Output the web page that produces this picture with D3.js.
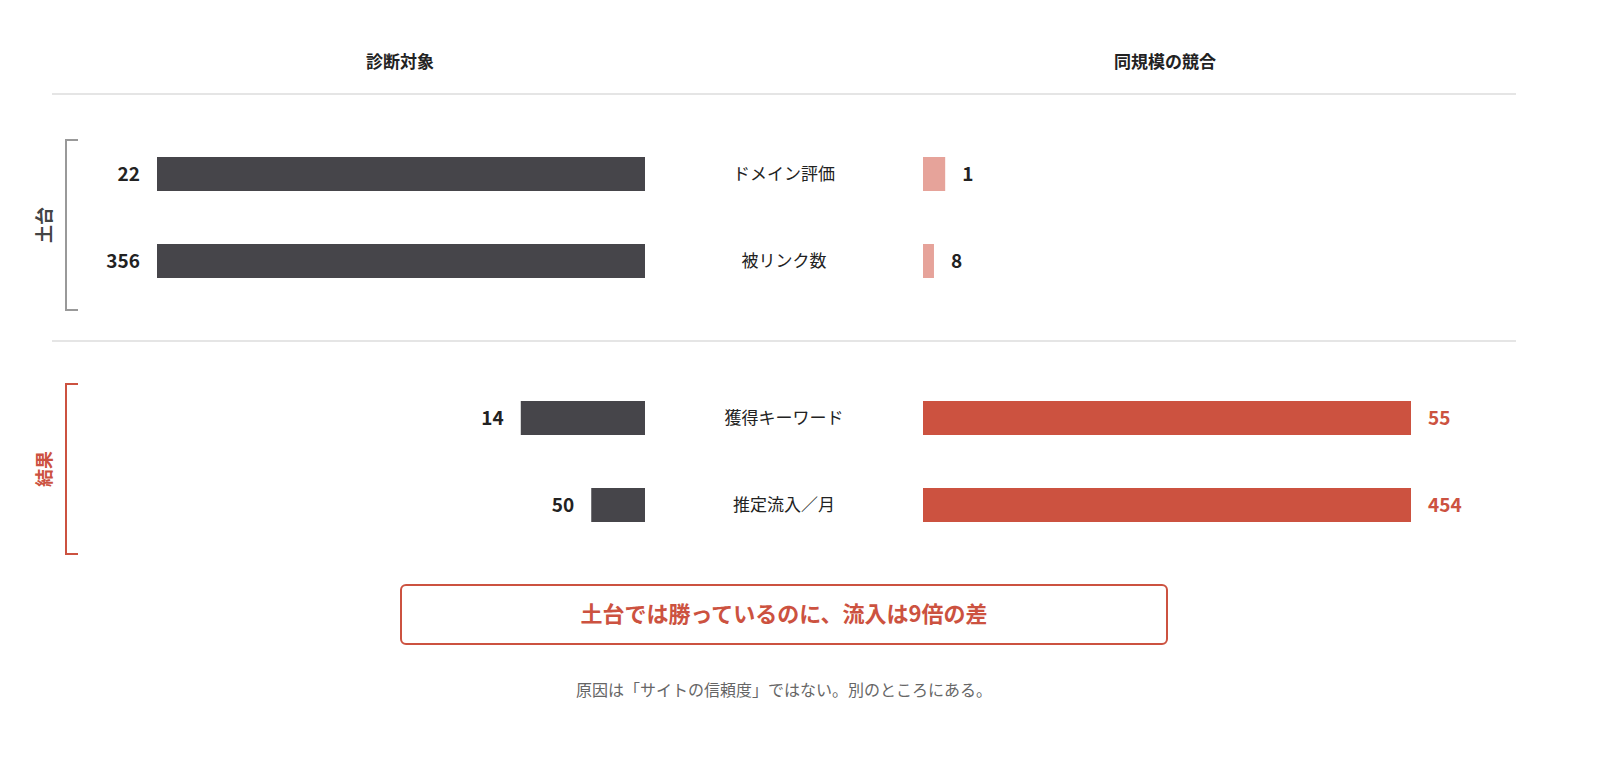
<!DOCTYPE html>
<html><head><meta charset="utf-8">
<script src="https://cdn.jsdelivr.net/npm/d3@7"></script>
<style>body{margin:0;background:#fff;font-family:"Noto Sans CJK JP","Noto Sans",sans-serif}</style>
</head><body><div id="chart"></div>
<script>
// data
var categories = ["ドメイン評価", "被リンク数", "獲得キーワード", "推定流入／月"];
var selfValues = [22, 356, 14, 50];
var rivalValues = [1, 8, 55, 454];
var groups = [{name: "土台", rows: [0, 1], color: "#999"}, {name: "結果", rows: [2, 3], color: "#cc5240"}];
var headers = ["診断対象", "同規模の競合"];

var svg = d3.select("#chart").append("svg").attr("width", 1600).attr("height", 764);

var y = d3.scalePoint().domain(categories).range([174, 505]);
var rowY = [174, 261, 418, 505];
var barH = 34, maxW = 488, leftEnd = 645, rightStart = 923, mid = 784;

// headers + separators
svg.selectAll(".hdr").data(headers).enter().append("text")
  .attr("x", function(d, i) { return i ? 1165 : 400; }).attr("y", 68)
  .attr("text-anchor", "middle").attr("font-size", 17).attr("font-weight", 700).attr("fill", "#222")
  .text(function(d) { return d; });
[94, 341].forEach(function(yy) {
  svg.append("line").attr("x1", 52).attr("x2", 1516).attr("y1", yy).attr("y2", yy)
    .attr("stroke", "#ddd").attr("stroke-width", 1.5);
});

// brackets
groups.forEach(function(g) {
  var y0 = rowY[g.rows[0]] - 34, y1 = rowY[g.rows[1]] + 49;
  svg.append("path").attr("d", "M78," + y0 + "H66V" + y1 + "H78")
    .attr("fill", "none").attr("stroke", g.color).attr("stroke-width", 2);
  svg.append("text").attr("transform", "translate(45," + ((y0 + y1) / 2) + ") rotate(-90)")
    .attr("text-anchor", "middle").attr("dy", "0.35em").attr("font-size", 18).attr("font-weight", 700)
    .attr("fill", g.color === "#999" ? "#444" : g.color).text(g.name);
});

categories.forEach(function(c, i) {
  var yy = rowY[i];
  var m = Math.max(selfValues[i], rivalValues[i]);
  var sc = d3.scaleLinear().domain([0, m]).range([0, maxW]);
  var ws = sc(selfValues[i]), wr = sc(rivalValues[i]);
  var result = i >= 2;
  svg.append("rect").attr("x", leftEnd - ws).attr("y", yy - barH / 2).attr("width", ws).attr("height", barH).attr("fill", "#46454a");
  svg.append("rect").attr("x", rightStart).attr("y", yy - barH / 2).attr("width", wr).attr("height", barH)
    .attr("fill", result ? "#cc5240" : "#e6a39a");
  svg.append("text").attr("x", leftEnd - ws - 17).attr("y", yy).attr("dy", "0.35em").attr("text-anchor", "end")
    .attr("font-size", 19).attr("font-weight", 700).attr("fill", "#222").text(selfValues[i]);
  svg.append("text").attr("x", rightStart + wr + 17).attr("y", yy).attr("dy", "0.35em")
    .attr("font-size", 19).attr("font-weight", 700).attr("fill", result ? "#cc5240" : "#222").text(rivalValues[i]);
  svg.append("text").attr("x", mid).attr("y", yy).attr("dy", "0.35em").attr("text-anchor", "middle")
    .attr("font-size", 17).attr("fill", "#222").text(c);
});

// callout
svg.append("rect").attr("x", 401).attr("y", 585).attr("width", 766).attr("height", 59).attr("rx", 5)
  .attr("fill", "#fff").attr("stroke", "#cc5240").attr("stroke-width", 2);
svg.append("text").attr("x", mid).attr("y", 614).attr("dy", "0.35em").attr("text-anchor", "middle")
  .attr("font-size", 22).attr("font-weight", 700).attr("fill", "#cc5240").text("土台では勝っているのに、流入は9倍の差");
svg.append("text").attr("x", mid).attr("y", 690).attr("dy", "0.35em").attr("text-anchor", "middle")
  .attr("font-size", 16).attr("fill", "#666").text("原因は「サイトの信頼度」ではない。別のところにある。");
</script></body></html>
